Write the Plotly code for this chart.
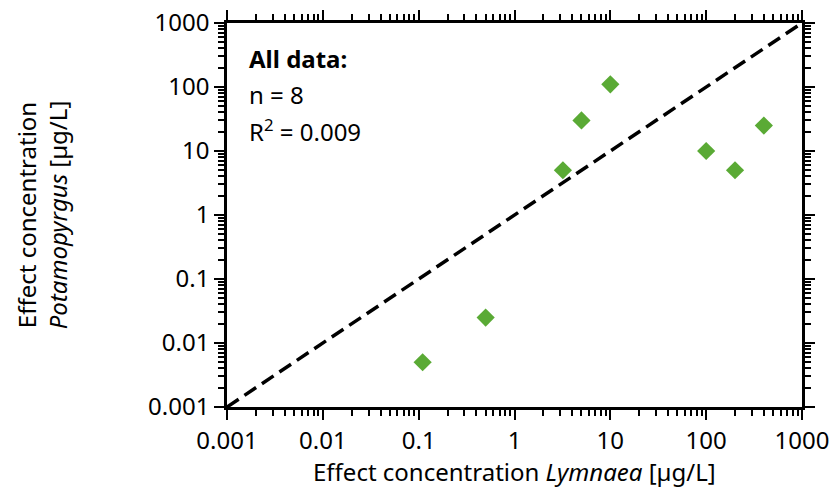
import plotly.graph_objects as go

lymnaea = [0.11, 0.5, 3.2, 5, 10, 100, 200, 400]
potamopyrgus = [0.005, 0.025, 5, 30, 110, 10, 5, 25]
ref_line = [0.001, 1000]
tick_vals = [0.001, 0.01, 0.1, 1, 10, 100, 1000]
tick_text = ["0.001", "0.01", "0.1", "1", "10", "100", "1000"]
minor_vals = [m * d for d in [0.001, 0.01, 0.1, 1, 10, 100] for m in range(2, 10)]
note_lines = ["<b>All data:</b>", "n = 8", "R<sup>2</sup> = 0.009"]
x_title = "Effect concentration <i>Lymnaea</i> [µg/L]"
y_title = "Effect concentration<br><i>Potamopyrgus</i> [µg/L]"

FONT = "Noto Sans"
FS = 24
fig = go.Figure()
fig.add_trace(go.Scatter(x=ref_line, y=ref_line, mode="lines",
                         line=dict(color="black", width=3.5, dash="14px,7px"),
                         showlegend=False, hoverinfo="skip"))
fig.add_trace(go.Scatter(x=lymnaea, y=potamopyrgus, mode="markers",
                         marker=dict(symbol="diamond", size=14, color="#5aaa35"),
                         showlegend=False))

axis_common = dict(
    type="log", range=[-3, 3], tickmode="array", tickvals=tick_vals, ticktext=tick_text,
    ticks="outside", ticklen=10, tickwidth=2, tickcolor="black",
    showline=True, linecolor="black", linewidth=2.5, mirror="allticks",
    showgrid=False, zeroline=False, automargin=False,
    tickfont=dict(family=FONT, size=FS, color="black"),
    minor=dict(tickmode="array", tickvals=minor_vals, ticks="outside", ticklen=6,
               tickwidth=1.8, tickcolor="black", showgrid=False),
)

fig.update_xaxes(**axis_common)
fig.update_yaxes(**axis_common,
                 title=dict(text=y_title,
                            font=dict(family=FONT, size=FS, color="black"), standoff=74))

fig.add_annotation(xref="paper", yref="paper", x=0.5, y=-0.168, xanchor="center",
                   yanchor="middle", showarrow=False, text=x_title,
                   font=dict(family=FONT, size=FS, color="black"))

for line, yy in zip(note_lines, [0.908, 0.815, 0.721]):
    fig.add_annotation(xref="paper", yref="paper", x=0.034, y=yy, xanchor="left",
                       yanchor="middle", align="left", showarrow=False, text=line,
                       font=dict(family=FONT, size=FS, color="black"))

fig.update_layout(width=834, height=495, margin=dict(l=227, r=32, t=23, b=88),
                  paper_bgcolor="white", plot_bgcolor="white",
                  font=dict(family=FONT, color="black"))
fig.write_html("out.html")
